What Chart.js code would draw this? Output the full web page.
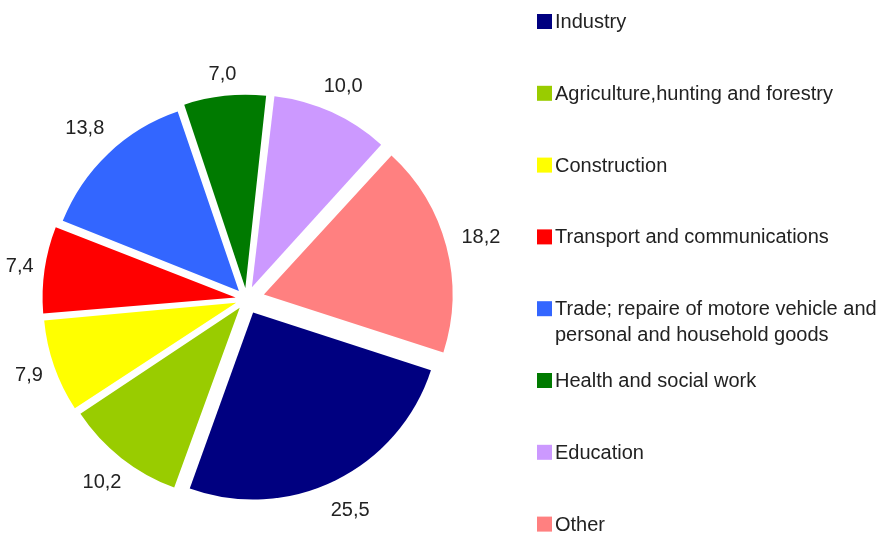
<!DOCTYPE html>
<html lang="en">
<head>
    <meta charset="UTF-8">
    <title>Employment by sector</title>
    <script src="https://cdn.jsdelivr.net/npm/chart.js"></script>
    <style>
        html, body { margin: 0; padding: 0; background: #fff; }
        #wrap { width: 893px; height: 535px; }
    </style>
</head>
<body>
    <div id="wrap"><canvas id="sectorPie" width="893" height="535"></canvas></div>

    <script>
        // Sector shares, percent
        const sectors = [
            'Industry',
            'Agriculture,hunting and forestry',
            'Construction',
            'Transport and communications',
            ['Trade; repaire of motore vehicle and', 'personal and household goods'],
            'Health and social work',
            'Education',
            'Other'
        ];
        const shares = [25.5, 10.2, 7.9, 7.4, 13.8, 7.0, 10.0, 18.2];
        const sliceColors = ['#000080', '#99cc00', '#ffff00', '#ff0000', '#3366ff', '#007a00', '#cc99ff', '#ff8080'];
        // how far each slice is pulled out, px
        const explode = [15, 11, 11, 11, 11, 11, 13, 18];

        const FONT = '20px "Liberation Sans", Arial, sans-serif';

        // value labels just outside each slice, pushed out by the text box
        const valueLabels = {
            id: 'valueLabels',
            afterDatasetsDraw(chart) {
                const ctx = chart.ctx;
                const meta = chart.getDatasetMeta(0);
                ctx.save();
                ctx.font = FONT;
                ctx.fillStyle = '#222';
                ctx.textAlign = 'center';
                ctx.textBaseline = 'middle';
                meta.data.forEach((arc, i) => {
                    const p = arc.getProps(['x', 'y', 'startAngle', 'endAngle', 'outerRadius'], true);
                    const mid = (p.startAngle + p.endAngle) / 2;
                    const dx = Math.cos(mid), dy = Math.sin(mid);
                    const txt = shares[i].toFixed(1).replace('.', ',');
                    const w = ctx.measureText(txt).width;
                    const r = p.outerRadius + explode[i] + 16 + Math.abs(dx) * w / 2 + Math.abs(dy) * 10;
                    ctx.fillText(txt, p.x + dx * r, p.y + dy * r);
                });
                ctx.restore();
            }
        };

        // legend column on the right
        const sideLegend = {
            id: 'sideLegend',
            afterDraw(chart) {
                const ctx = chart.ctx;
                const x0 = 537, y0 = 21.5, step = 71.8, box = 15;
                ctx.save();
                ctx.font = FONT;
                ctx.textBaseline = 'middle';
                ctx.textAlign = 'left';
                sectors.forEach((name, i) => {
                    const y = y0 + i * step;
                    ctx.fillStyle = sliceColors[i];
                    ctx.fillRect(x0, y - box / 2, box, box);
                    ctx.fillStyle = '#222';
                    const lines = Array.isArray(name) ? name : [name];
                    lines.forEach((ln, k) => {
                        ctx.fillText(ln, x0 + 18, y + 1 + k * 26);
                    });
                });
                ctx.restore();
            }
        };

        new Chart(document.getElementById('sectorPie').getContext('2d'), {
            type: 'pie',
            data: {
                labels: sectors,
                datasets: [{
                    data: shares,
                    backgroundColor: sliceColors,
                    borderWidth: 0,
                    // ArcElement moves a slice by offset / 4
                    offset: explode.map(v => v * 4),
                    radius: 187
                }]
            },
            options: {
                responsive: false,
                animation: false,
                rotation: 108,
                events: [],
                layout: { padding: { left: 0, right: 400, top: 63, bottom: 0 } },
                plugins: {
                    legend: { display: false },
                    tooltip: { enabled: false }
                }
            },
            plugins: [valueLabels, sideLegend]
        });
    </script>
</body>
</html>
